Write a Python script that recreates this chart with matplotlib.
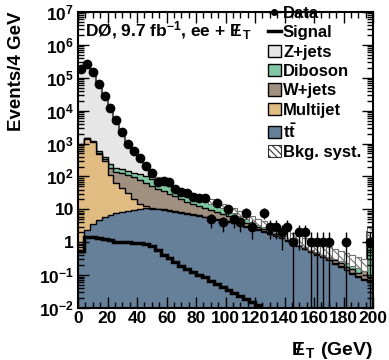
import numpy as np
import matplotlib
matplotlib.use("Agg")
import matplotlib.pyplot as plt
from matplotlib.lines import Line2D
from matplotlib.patches import Patch
from matplotlib.ticker import MultipleLocator, LogLocator, NullFormatter

plt.rcParams['font.family'] = ['Liberation Sans', 'DejaVu Sans']
plt.rcParams['font.weight'] = 'bold'
plt.rcParams['mathtext.fontset'] = 'custom'
plt.rcParams['mathtext.rm'] = 'Liberation Sans:bold'
plt.rcParams['mathtext.bf'] = 'Liberation Sans:bold'
plt.rcParams['mathtext.it'] = 'Liberation Sans:bold:italic'
plt.rcParams['mathtext.default'] = 'bf'
plt.rcParams['hatch.linewidth'] = 0.8

# 4 GeV bins, 0-200 GeV
bin_edges = np.arange(0, 204, 4)

data = [180000, 260000, 150000, 66000, 28000, 12000, 5100, 2300, 1000, 590,
        370, 213, 130, 69, 72, 70, 42, 34, 31, 23,
        22, 22, 5, 16, 4, 10, 5, 4, 8, 3,
        0, 8, 3, 3, 2, 3, 1, 2, 2, 1,
        1, 1, 1, 0, 0, 1, 0, 0, 0, 1]

ttbar = [0.5, 2.4, 3.6, 4.7, 5.8, 6.8, 7.5, 8.5, 9.0, 9.5,
         10.2, 10.8, 10.5, 10.0, 9.4, 8.9, 8.5, 8.0, 7.4, 6.9,
         6.3, 5.8, 5.3, 4.9, 4.5, 4.2, 3.8, 3.4, 3.0, 2.7,
         2.4, 2.1, 1.8, 1.55, 1.3, 1.1, 0.9, 0.75, 0.62, 0.5,
         0.42, 0.35, 0.28, 0.22, 0.18, 0.14, 0.11, 0.09, 0.07, 0.06]

multijet = [900, 1400, 1100, 465, 294, 103, 54.5, 35.5, 22, 11.5,
            4.8, 2.2, 0.8, 0.6, 0.5, 0.45, 0.4, 0.35, 0.3, 0.27,
            0.24, 0.21, 0.18, 0.16, 0.14, 0.12, 0.1, 0.09, 0.08, 0.07,
            0.06, 0.05, 0.045, 0.04, 0.035, 0.03, 0.026, 0.022, 0.019, 0.016,
            0.014, 0.012, 0.01, 0.008, 0.007, 0.006, 0.005, 0.004, 0.004, 0.004]

wjets = [20, 30, 30, 30, 30, 70, 78, 81, 79, 74,
         65, 52, 39, 31, 25, 20.6, 16, 11.6, 9.3, 7.3,
         6.0, 5.0, 4.0, 3.1, 2.6, 2.0, 1.5, 1.1, 0.82, 0.63,
         0.44, 0.35, 0.26, 0.21, 0.165, 0.12, 0.12, 0.11, 0.10, 0.10,
         0.086, 0.068, 0.07, 0.062, 0.043, 0.034, 0.035, 0.026, 0.086, 0.026]

diboson = [60, 60, 60, 100, 60, 55, 40, 40, 35, 35,
           35, 35, 35, 33, 27, 22, 18, 16, 13.5, 11.5,
           9.5, 8, 6.8, 5.6, 4.5, 3.5, 2.8, 2.2, 1.7, 1.2,
           0.9, 0.7, 0.5, 0.4, 0.3, 0.25, 0.2, 0.17, 0.14, 0.13,
           0.12, 0.12, 0.11, 0.12, 0.13, 0.14, 0.12, 0.11, 0.04, 0.86]

zjets = [189000, 248500, 143800, 64400, 27600, 11800, 4820, 2030, 855, 430,
         235, 100, 40, 13, 8, 6, 5, 3, 2.5, 2.0,
         2.0, 1.5, 1.2, 1.2, 1.1, 1.0, 0.9, 0.8, 0.7, 0.6,
         0.5, 0.4, 0.4, 0.3, 0.3, 0.25, 0.2, 0.15, 0.12, 0.1,
         0.08, 0.07, 0.06, 0.05, 0.04, 0.03, 0.03, 0.03, 0.02, 1.05]

signal = [0.55, 1.4, 1.45, 1.35, 1.25, 1.15, 1.05, 1.0, 1.0, 0.98,
          0.97, 0.9, 0.75, 0.58, 0.42, 0.33, 0.25, 0.19, 0.15, 0.125,
          0.1, 0.085, 0.068, 0.055, 0.045, 0.036, 0.029, 0.024, 0.019, 0.015,
          0.012, 0.005, 0.005, 0.005, 0.005, 0.005, 0.005, 0.005, 0.005, 0.005,
          0.005, 0.005, 0.005, 0.005, 0.005, 0.005, 0.005, 0.005, 0.005, 0.005]

syst_frac = [0.05, 0.05, 0.05, 0.05, 0.05, 0.05, 0.05, 0.05, 0.05, 0.06,
             0.06, 0.07, 0.08, 0.1, 0.1, 0.1, 0.1, 0.1, 0.12, 0.12,
             0.12, 0.14, 0.14, 0.15, 0.15, 0.16, 0.17, 0.18, 0.2, 0.2,
             0.22, 0.22, 0.25, 0.25, 0.25, 0.28, 0.28, 0.3, 0.3, 0.3,
             0.32, 0.32, 0.35, 0.35, 0.35, 0.35, 0.38, 0.38, 0.4, 0.55]

labels = ['Data', 'Signal', 'Z+jets', 'Diboson', 'W+jets', 'Multijet', r'$t\bar{t}$', 'Bkg. syst.']
colors = ['#66809a', '#e0bb82', '#a09080', '#80c7a3', '#e6e6e6']  # ttbar, mj, w, vv, z

ytick_vals = [1e-2, 1e-1, 1, 10, 1e2, 1e3, 1e4, 1e5, 1e6, 1e7]
ytick_labels = [r'$10^{-2}$', r'$10^{-1}$', '1', '10', r'$10^{2}$', r'$10^{3}$',
                r'$10^{4}$', r'$10^{5}$', r'$10^{6}$', r'$10^{7}$']
xtick_vals = np.arange(0, 220, 20)

fig = plt.figure(figsize=(3.89, 3.60), dpi=100)
ax = fig.add_axes([0.2005, 0.1444, 0.7585, 0.8223])
ax.set_yscale('log')

# stacked backgrounds, drawn from the top of the stack down
stack = np.cumsum([ttbar, multijet, wjets, diboson, zjets], axis=0)
for i in range(4, -1, -1):
    ax.stairs(stack[i], bin_edges, baseline=1e-4, fill=True, color=colors[i], lw=0)
    ax.stairs(stack[i], bin_edges, baseline=None, color='black' if i < 4 else '#555555',
              lw=1.0 if i < 4 else 1.5)

# background systematic band
tot = stack[-1]
frac = np.array(syst_frac)
ax.bar(bin_edges[:-1], 2 * frac * tot, bottom=tot * (1 - frac), width=4, align='edge',
       facecolor='white', edgecolor='#707070', hatch='\\\\\\\\', lw=0.8)

# signal
ax.stairs(signal, bin_edges, baseline=None, color='black', lw=2.5)

# data points
centers = 0.5 * (bin_edges[:-1] + bin_edges[1:])
d = np.array(data, dtype=float)
m = d > 0
err = np.sqrt(d[m])
lo = np.minimum(err, d[m] - 1e-3)
ax.errorbar(centers[m], d[m], yerr=[lo, err], fmt='o', color='black', ms=6,
            elinewidth=1, capsize=0, zorder=10)

ax.set_xlim(0, 200)
ax.set_ylim(1e-2, 1e7)
ax.set_xticks(xtick_vals)
ax.set_xticklabels([str(v) for v in xtick_vals])
ax.xaxis.set_minor_locator(MultipleLocator(5))
ax.set_yticks(ytick_vals)
ax.set_yticklabels(ytick_labels)
ax.yaxis.set_minor_locator(LogLocator(base=10, subs=np.arange(2, 10), numticks=20))
ax.yaxis.set_minor_formatter(NullFormatter())
ax.tick_params(which='both', direction='in', top=True, right=True, labelsize=12.5, width=1)
ax.tick_params(which='major', length=8)
ax.tick_params(which='minor', length=4)
ax.tick_params(axis='x', pad=2)
ax.tick_params(axis='y', pad=3)
for s in ax.spines.values():
    s.set_linewidth(1.5)

ax.set_ylabel('Events/4 GeV', loc='top', fontsize=13.5, fontweight='bold', labelpad=10)
ax.set_xlabel(r'$E\!\!\!/\;{}_{T}$ (GeV)', loc='right', fontsize=14, fontweight='bold', labelpad=10)

ax.text(0.024, 0.936, r'DØ, 9.7 fb$^{-1}$, ee + $E\!\!\!/\;{}_{T}$', transform=ax.transAxes,
        fontsize=12.5, fontweight='bold', va='center', ha='left')

handles = [Line2D([0], [0], marker='o', color='black', ms=4, lw=1),
           Line2D([0], [0], color='black', lw=2.5)]
for c in colors[::-1]:
    handles.append(Patch(facecolor=c, edgecolor='black', lw=1))
handles.append(Patch(facecolor='white', edgecolor='#333333', hatch='\\\\\\\\\\', lw=0.8))
ax.legend(handles, labels, loc='upper left', bbox_to_anchor=(0.644, 1.02), frameon=False,
          fontsize=12, handlelength=0.75, handleheight=0.75, handletextpad=0.15,
          labelspacing=0.26, borderpad=0, borderaxespad=0)

fig.savefig('out.png', dpi=100)
